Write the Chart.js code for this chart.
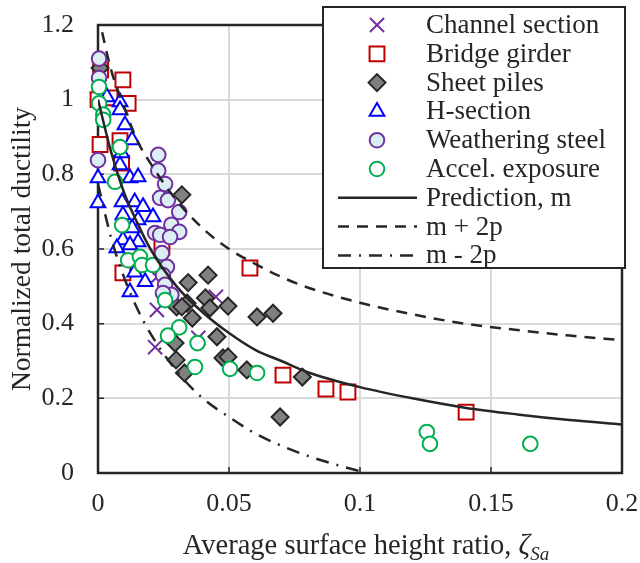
<!DOCTYPE html>
<html>
<head>
<meta charset="utf-8">
<script src="https://cdn.jsdelivr.net/npm/chart.js"></script>
<style>
  html, body { margin: 0; padding: 0; background: #fff; }
  #chart { display: block; }
</style>
</head>
<body>
<canvas id="chart" width="640" height="563"></canvas>
<script>
// tick labels
const xTickLabels = ['0', '0.05', '0.1', '0.15', '0.2'];
const yTickLabels = ['0', '0.2', '0.4', '0.6', '0.8', '1', '1.2'];

// measured ductility, by specimen type
const channelX = [0.0218, 0.0225, 0.0383, 0.045, 0.0225];
const channelY = [0.337, 0.437, 0.362, 0.472, 0.525];

const bridgeX = [0.001, 0.0046, 0.0095, 0.0115, 0, 0.0008, 0.0084, 0.009, 0.0095, 0.0244, 0.058, 0.0706, 0.087, 0.0954, 0.1405];
const bridgeY = [1.08, 1.005, 1.053, 0.99, 1.0, 0.88, 0.89, 0.83, 0.536, 0.605, 0.549, 0.262, 0.225, 0.217, 0.163];

const pilesX = [0.0008, 0.032, 0.0344, 0.042, 0.041, 0.034, 0.030, 0.0427, 0.0496, 0.036, 0.032, 0.0607, 0.0668, 0.0454, 0.0294, 0.0298, 0.033, 0.0477, 0.0496, 0.0568, 0.078, 0.0695];
const pilesY = [1.085, 0.745, 0.51, 0.53, 0.469, 0.455, 0.445, 0.442, 0.447, 0.415, 0.445, 0.418, 0.428, 0.365, 0.348, 0.303, 0.268, 0.308, 0.311, 0.276, 0.257, 0.15];

const hX = [0.0034, 0.0084, 0.0084, 0.0103, 0.013, 0.009, 0.0084, 0.0122, 0.0153, 0.0092, 0.014, 0.0172, 0.021, 0.0095, 0.0153, 0.013, 0.0095, 0.0072, 0.0153, 0.0122, 0.014, 0.018, 0.0122, 0, 0];
const hY = [1.007, 0.994, 0.972, 0.932, 0.892, 0.857, 0.825, 0.79, 0.793, 0.726, 0.726, 0.713, 0.686, 0.691, 0.678, 0.656, 0.624, 0.603, 0.619, 0.611, 0.538, 0.512, 0.485, 0.79, 0.723];

const weatherX = [0.0004, 0.0004, 0, 0.023, 0.023, 0.0256, 0.0237, 0.0267, 0.031, 0.028, 0.031, 0.0218, 0.0237, 0.0275, 0.0244, 0.0263, 0.0248, 0.0256, 0.028, 0.0248];
const weatherY = [1.11, 1.058, 0.838, 0.852, 0.81, 0.774, 0.737, 0.731, 0.699, 0.665, 0.646, 0.643, 0.638, 0.632, 0.589, 0.552, 0.53, 0.504, 0.477, 0.482];

const accelX = [0.0004, 0.0004, 0.002, 0.002, 0.0084, 0.0065, 0.0092, 0.0115, 0.016, 0.0168, 0.021, 0.0256, 0.031, 0.0267, 0.038, 0.037, 0.0504, 0.0607, 0.1255, 0.1267, 0.165];
const accelY = [1.034, 0.99, 0.96, 0.946, 0.873, 0.78, 0.664, 0.57, 0.579, 0.557, 0.557, 0.463, 0.39, 0.368, 0.348, 0.284, 0.279, 0.268, 0.11, 0.078, 0.078];

// prediction curves
const predX = [0, 0.005, 0.01, 0.015, 0.02, 0.03, 0.04, 0.05, 0.06, 0.07, 0.08, 0.1, 0.12, 0.14, 0.16, 0.18, 0.2];
const predM = [1.0, 0.86, 0.75, 0.67, 0.60, 0.50, 0.43, 0.375, 0.33, 0.30, 0.27, 0.23, 0.20, 0.175, 0.157, 0.142, 0.13];
const predUpper = [1.23, 1.08, 0.98, 0.89, 0.83, 0.73, 0.655, 0.60, 0.56, 0.525, 0.497, 0.456, 0.425, 0.40, 0.383, 0.368, 0.356];
const lowerX = [0, 0.005, 0.01, 0.015, 0.02, 0.03, 0.04, 0.05, 0.06, 0.07, 0.08, 0.09, 0.1025];
const predLower = [0.774, 0.63, 0.523, 0.44, 0.374, 0.273, 0.20, 0.15, 0.106, 0.073, 0.046, 0.024, 0];

const pts = (xs, ys) => xs.map((x, i) => ({ x: x, y: ys[i] }));

const FONT = '"Liberation Serif", "Times New Roman", serif';
const INK = '#262626';

const marks = (label, xs, ys, style, radius, fill, stroke, order) => ({
  label: label,
  data: pts(xs, ys),
  pointStyle: style,
  pointRadius: radius,
  pointHoverRadius: radius,
  backgroundColor: fill,
  borderColor: stroke,
  pointBorderWidth: 2,
  borderWidth: 2,
  clip: false,
  order: order
});

const curve = (label, xs, ys, dash) => ({
  label: label,
  type: 'line',
  data: pts(xs, ys),
  showLine: true,
  borderColor: INK,
  borderWidth: 2.5,
  borderDash: dash,
  pointRadius: 0,
  fill: false,
  cubicInterpolationMode: 'monotone',
  order: 0
});

const datasets = [
  marks('Channel section', channelX, channelY, 'crossRot', 10, '#7030a0', '#7030a0', 6),
  marks('Bridge girder', bridgeX, bridgeY, 'rect', 10.5, '#ffffff', '#c00000', 5),
  marks('Sheet piles', pilesX, pilesY, 'rectRot', 8.5, '#808080', INK, 4),
  marks('H-section', hX, hY, 'triangle', 8.5, '#ffffff', '#0000ff', 3),
  marks('Weathering steel', weatherX, weatherY, 'circle', 7.3, '#daeef3', '#7030a0', 2),
  marks('Accel. exposure', accelX, accelY, 'circle', 7.3, '#ffffff', '#00b050', 1),
  curve('Prediction, m', predX, predM, []),
  curve('m + 2p', predX, predUpper, [11, 8]),
  curve('m - 2p', lowerX, predLower, [13, 8, 2, 8])
];

// plot frame with inward tick marks
const framePlugin = {
  id: 'frame',
  beforeDatasetsDraw(chart) {
    const { ctx, chartArea: a, scales } = chart;
    ctx.save();
    ctx.strokeStyle = INK;
    ctx.lineWidth = 1.5;
    ctx.beginPath();
    scales.x.ticks.forEach(t => {
      const px = scales.x.getPixelForValue(t.value);
      ctx.moveTo(px, a.bottom);
      ctx.lineTo(px, a.bottom - 6);
    });
    scales.y.ticks.forEach(t => {
      const py = scales.y.getPixelForValue(t.value);
      ctx.moveTo(a.left, py);
      ctx.lineTo(a.left + 6, py);
    });
    ctx.stroke();
    ctx.lineWidth = 2.5;
    ctx.strokeRect(a.left, a.top, a.right - a.left, a.bottom - a.top);
    ctx.restore();
  }
};

// x axis title with italic subscript
const xTitlePlugin = {
  id: 'xTitle',
  afterDraw(chart) {
    const { ctx, chartArea: a } = chart;
    const parts = [
      ['Average surface height ratio, ', '28.5px ' + FONT, 0],
      ['ζ', 'italic 28.5px ' + FONT, 0],
      ['Sa', 'italic 19px ' + FONT, 6]
    ];
    ctx.save();
    ctx.fillStyle = INK;
    ctx.textBaseline = 'alphabetic';
    let w = 0;
    parts.forEach(p => { ctx.font = p[1]; w += ctx.measureText(p[0]).width; });
    let x = (a.left + a.right) / 2 + 6 - w / 2;
    parts.forEach(p => {
      ctx.font = p[1];
      ctx.fillText(p[0], x, 554 + p[2]);
      x += ctx.measureText(p[0]).width;
    });
    ctx.restore();
  }
};

// boxed legend in the upper right
const legendPlugin = {
  id: 'boxLegend',
  afterDraw(chart) {
    const ctx = chart.ctx;
    const box = { left: 323, top: 7, width: 302, height: 261 };
    const rowH = 28.8;
    ctx.save();
    ctx.fillStyle = '#ffffff';
    ctx.fillRect(box.left, box.top, box.width, box.height);
    ctx.strokeStyle = INK;
    ctx.lineWidth = 2;
    ctx.strokeRect(box.left, box.top, box.width, box.height);
    ctx.font = '27px ' + FONT;
    ctx.textBaseline = 'middle';
    chart.data.datasets.forEach((ds, i) => {
      const cy = box.top + 18 + i * rowH;
      if (ds.type === 'line') {
        ctx.save();
        ctx.strokeStyle = ds.borderColor;
        ctx.lineWidth = ds.borderWidth;
        ctx.setLineDash(ds.borderDash);
        ctx.beginPath();
        ctx.moveTo(338, cy);
        ctx.lineTo(417, cy);
        ctx.stroke();
        ctx.restore();
      } else {
        ctx.save();
        ctx.fillStyle = ds.backgroundColor;
        ctx.strokeStyle = ds.borderColor;
        ctx.lineWidth = ds.pointBorderWidth;
        Chart.helpers.drawPoint(ctx, {
          pointStyle: ds.pointStyle,
          radius: ds.pointRadius,
          borderWidth: ds.pointBorderWidth,
          rotation: 0
        }, 377, cy);
        ctx.restore();
      }
      ctx.fillStyle = INK;
      ctx.fillText(ds.label, 426, cy + 1);
    });
    ctx.restore();
  }
};

const chart = document.querySelector('#chart').getContext('2d');

new Chart(chart, {
  type: 'scatter',
  data: { datasets: datasets },
  options: {
    responsive: false,
    animation: false,
    events: [],
    layout: { padding: { left: 0, right: 18, top: 25, bottom: 0 } },
    plugins: {
      legend: { display: false },
      tooltip: { enabled: false }
    },
    scales: {
      x: {
        type: 'linear',
        min: 0,
        max: 0.2,
        ticks: {
          stepSize: 0.05,
          padding: 16,
          color: INK,
          font: { family: FONT, size: 26 },
          callback: (v, i) => xTickLabels[i]
        },
        grid: { color: '#d9d9d9', lineWidth: 2, drawTicks: false },
        border: { display: false },
        afterFit: s => { s.height = 90; s.paddingLeft = 0; s.paddingRight = 0; }
      },
      y: {
        min: 0,
        max: 1.2,
        ticks: {
          stepSize: 0.2,
          padding: 24,
          color: INK,
          font: { family: FONT, size: 26 },
          callback: (v, i) => yTickLabels[i]
        },
        grid: { color: '#d9d9d9', lineWidth: 2, drawTicks: false },
        border: { display: false },
        title: {
          display: true,
          text: 'Normalized total ductility',
          color: INK,
          font: { family: FONT, size: 27.5 },
          padding: { top: 6, bottom: 0 }
        },
        afterFit: s => { s.width = 98; s.paddingTop = 0; s.paddingBottom = 0; }
      }
    }
  },
  plugins: [framePlugin, legendPlugin, xTitlePlugin]
});
</script>
</body>
</html>
